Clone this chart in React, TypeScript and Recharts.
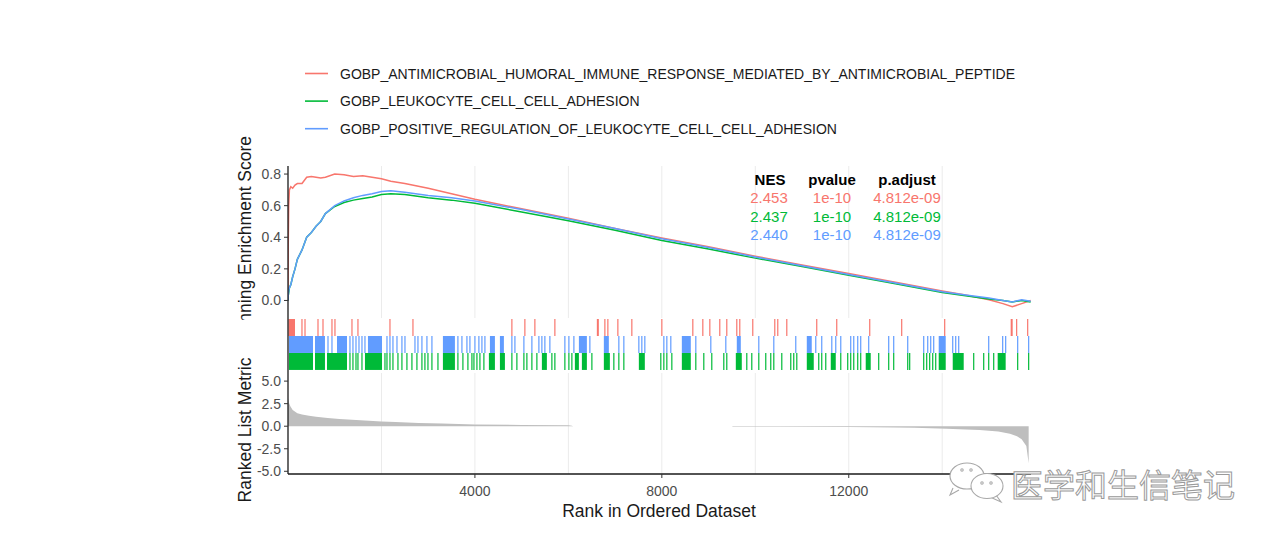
import React from 'react'
import {
  LineChart, Line, ScatterChart, Scatter, AreaChart, Area,
  XAxis, YAxis, CartesianGrid, ReferenceArea,
} from 'recharts'

const W = 1271
const H = 541
const FONT = '"Liberation Sans", Arial, Helvetica, sans-serif'

const RED = '#F8766D'
const GREEN = '#00BA38'
const BLUE = '#619CFF'

const N_GENES = 15900
const gridRanks = [2000, 4000, 6000, 8000, 10000, 12000, 14000]
const rankTicks = [4000, 8000, 12000]
const esTicks = [0, 0.2, 0.4, 0.6, 0.8]
const metricTicks = [-5, -2.5, 0, 2.5, 5]

const setNames = [
  'GOBP_ANTIMICROBIAL_HUMORAL_IMMUNE_RESPONSE_MEDIATED_BY_ANTIMICROBIAL_PEPTIDE',
  'GOBP_LEUKOCYTE_CELL_CELL_ADHESION',
  'GOBP_POSITIVE_REGULATION_OF_LEUKOCYTE_CELL_CELL_ADHESION',
]
const setColors = [RED, GREEN, BLUE]
const nes = ['2.453', '2.437', '2.440']
const pvalues = ['1e-10', '1e-10', '1e-10']
const padjust = ['4.812e-09', '4.812e-09', '4.812e-09']

// running enrichment score
const esRanks = [0, 5, 15, 30, 60, 100, 150, 200, 300, 400, 500, 600, 700, 800, 1000, 1200, 1400, 1600, 1800, 2000,
  2200, 2500, 3000, 3500, 4000, 5000, 6000, 7000, 8000, 9000, 10000, 11000, 12000, 13000, 14000, 14500, 15000, 15300, 15500, 15700, 15893]
const esAntimicrobial = [0.0, 0.35, 0.6, 0.70, 0.72, 0.71, 0.73, 0.74, 0.74, 0.78, 0.785, 0.78, 0.775, 0.78, 0.80, 0.795, 0.785, 0.79, 0.78, 0.77,
  0.755, 0.74, 0.71, 0.675, 0.64, 0.58, 0.52, 0.455, 0.395, 0.34, 0.28, 0.225, 0.17, 0.115, 0.06, 0.035, 0.005, -0.02, -0.04, -0.02, 0.0]
const esLeukocyte = [0.0, 0.03, 0.05, 0.08, 0.10, 0.15, 0.20, 0.26, 0.32, 0.40, 0.43, 0.47, 0.50, 0.55, 0.595, 0.62, 0.635, 0.645, 0.655, 0.67,
  0.675, 0.67, 0.65, 0.635, 0.615, 0.56, 0.505, 0.445, 0.38, 0.325, 0.268, 0.215, 0.16, 0.105, 0.05, 0.03, 0.01, 0.0, -0.01, 0.0, -0.01]
const esPositiveReg = [0.0, 0.03, 0.06, 0.08, 0.10, 0.15, 0.20, 0.26, 0.32, 0.40, 0.43, 0.47, 0.50, 0.55, 0.60, 0.63, 0.65, 0.665, 0.675, 0.69,
  0.695, 0.685, 0.665, 0.65, 0.63, 0.575, 0.515, 0.455, 0.39, 0.335, 0.275, 0.22, 0.165, 0.11, 0.055, 0.035, 0.015, 0.0, -0.01, 0.005, -0.005]

// ranked list metric
const metricRanks = [0, 20, 50, 100, 200, 300, 450, 600, 850, 1100, 1550, 2000, 2300, 2800, 3300, 4000, 5000, 6000, 6075, 6100,
  9500, 9520, 10500, 12000, 13000, 13400, 14100, 14500, 14800, 15200, 15450, 15600, 15700, 15800, 15850]
const metricValues = [3.1, 2.6, 2.2, 1.8, 1.45, 1.3, 1.15, 1.05, 0.9, 0.8, 0.65, 0.52, 0.47, 0.36, 0.3, 0.18, 0.14, 0.1, 0.05, 0,
  0, -0.05, -0.06, -0.1, -0.14, -0.18, -0.29, -0.36, -0.43, -0.6, -0.85, -1.1, -1.45, -2.2, -4.1]

// gene set hits: single ranks and dense runs [from, to]
const redHitRanks = [299, 364, 642, 749, 941, 1005, 1369, 1497, 2182, 2674, 4791, 5069, 5283, 5711, 6781, 6845, 7059, 7358, 8000,
  8663, 8877, 9027, 9240, 9390, 9604, 9668, 9946, 10417, 10481, 10674, 11315, 11743, 12449, 13133, 14053, 15593, 15829]
const redHitBlocks = [[10, 150], [6609, 6652], [15465, 15508]]

const blueHitRanks = [856, 941, 1326, 1390, 1455, 1519, 1583, 1647, 2118, 2182, 2246, 2332, 2438, 2503, 2717, 2781, 2866, 2973, 3080,
  3636, 3722, 3829, 3893, 4000, 4085, 4150, 4214, 4791, 4856, 5048, 5219, 5369, 5433, 5497, 5604, 5925, 6011, 6118, 6460, 7080,
  7187, 7508, 7572, 7636, 8043, 8107, 8192, 8727, 9048, 9369, 10075, 10396, 10866, 11294, 11422, 11637, 11722, 11829, 12042,
  12107, 12192, 12256, 12427, 12855, 12962, 13262, 13604, 13690, 13754, 13818, 14225, 14289, 14353, 14995, 15294, 15358, 15615, 15850]
const blueHitBlocks = [[21, 535], [578, 791], [1048, 1262], [1711, 2011], [3315, 3572], [4321, 4428], [4535, 4620], [6225, 6396],
  [6759, 6866], [8428, 8620], [9604, 9690], [11102, 11208], [13925, 14075]]

const greenHitRanks = [1326, 1390, 1455, 1497, 1583, 2075, 2118, 2182, 2246, 2353, 2438, 2545, 2652, 2759, 2866, 2930, 2995, 3080,
  3209, 3636, 3743, 3850, 3936, 3979, 4043, 4107, 4192, 4791, 4898, 5048, 5112, 5219, 5326, 5647, 5711, 5925, 6011, 6075, 6503,
  6973, 7080, 7187, 7978, 8043, 8107, 8214, 8727, 8898, 9069, 9326, 9390, 9818, 9925, 10075, 10224, 10331, 10396, 10567, 10759,
  10823, 10888, 11358, 11422, 11508, 11829, 11978, 12042, 12107, 12192, 12256, 12641, 12855, 12962, 13262, 13304, 13604, 13668,
  13732, 13797, 13861, 14674, 14888, 14995, 15102, 15615, 15850]
const greenHitBlocks = [[21, 535], [578, 791], [835, 1262], [1647, 2011], [3315, 3572], [4299, 4428], [4535, 4642], [5433, 5540],
  [6139, 6225], [6289, 6396], [6759, 6888], [7508, 7636], [8428, 8620], [9583, 9711], [11102, 11251], [11615, 11722],
  [12363, 12470], [13925, 14075], [14225, 14460], [15187, 15358]]

const esData = esRanks.map((rank, i) => ({
  rank, anti: esAntimicrobial[i], leuko: esLeukocyte[i], posreg: esPositiveReg[i],
}))
const metricData = metricRanks.map((rank, i) => ({ rank, value: metricValues[i] }))
const hitRows = [
  { key: 'red', color: RED, y: 2.5, ranks: redHitRanks, blocks: redHitBlocks },
  { key: 'blue', color: BLUE, y: 1.5, ranks: blueHitRanks, blocks: blueHitBlocks },
  { key: 'green', color: GREEN, y: 0.5, ranks: greenHitRanks, blocks: greenHitBlocks },
]

const axisLine = { stroke: '#1a1a1a', strokeWidth: 1.3 }
const tickLine = { stroke: '#333', strokeWidth: 1 }
const tickText = { fill: '#4d4d4d', fontSize: 14, fontFamily: FONT }
const MARGIN_L = 248
const MARGIN_R = 240
const abs: React.CSSProperties = { position: 'absolute', left: 0, top: 0 }

const HitTick = (props: any) => {
  const { cx, cy, fill } = props
  return <line x1={cx} x2={cx} y1={cy - 8.5} y2={cy + 8.5} stroke={fill} strokeWidth={1.2} />
}

export default function App() {
  return (
    <div style={{ ...abs, width: W, height: H, background: '#fff', fontFamily: FONT, overflow: 'hidden' }}>
      <div style={abs}>
        <LineChart width={W} height={H} data={esData} margin={{ top: 166, right: MARGIN_R, bottom: H - 318, left: MARGIN_L }}>
          <CartesianGrid horizontal={false} verticalValues={gridRanks} stroke="#ebebeb" />
          <XAxis type="number" dataKey="rank" domain={[0, N_GENES]} ticks={gridRanks} hide allowDataOverflow />
          <YAxis type="number" domain={[-0.111, 0.851]} ticks={esTicks} tickFormatter={(v: number) => v.toFixed(1)}
            width={40} axisLine={axisLine} tickLine={tickLine} tickSize={4} tickMargin={3} tick={tickText} allowDataOverflow />
          <Line type="linear" dataKey="anti" stroke={RED} strokeWidth={1.5} dot={false} isAnimationActive={false} />
          <Line type="linear" dataKey="leuko" stroke={GREEN} strokeWidth={1.5} dot={false} isAnimationActive={false} />
          <Line type="linear" dataKey="posreg" stroke={BLUE} strokeWidth={1.5} dot={false} isAnimationActive={false} />
        </LineChart>
      </div>

      <div style={abs}>
        <ScatterChart width={W} height={H} margin={{ top: 318, right: MARGIN_R, bottom: H - 373, left: MARGIN_L }}>
          <XAxis type="number" dataKey="x" domain={[0, N_GENES]} hide allowDataOverflow />
          <YAxis type="number" dataKey="y" domain={[-0.18, 3.06]} width={40} tick={false} tickLine={false} axisLine={axisLine} allowDataOverflow />
          {hitRows.map(row =>
            row.blocks.map(([from, to], i) => (
              <ReferenceArea key={row.key + i} x1={from} x2={to} y1={row.y - 0.5} y2={row.y + 0.5}
                fill={row.color} fillOpacity={1} stroke="none" ifOverflow="visible" />
            ))
          )}
          {hitRows.map(row => (
            <Scatter key={row.key} data={row.ranks.map(r => ({ x: r, y: row.y }))} fill={row.color}
              shape={HitTick} isAnimationActive={false} />
          ))}
        </ScatterChart>
      </div>

      <div style={abs}>
        <AreaChart width={W} height={H} data={metricData} margin={{ top: 373, right: MARGIN_R, bottom: 37, left: MARGIN_L }}>
          <CartesianGrid horizontal={false} verticalValues={gridRanks} stroke="#ebebeb" />
          <XAxis type="number" dataKey="rank" domain={[0, N_GENES]} ticks={rankTicks} height={30} axisLine={axisLine}
            tickLine={tickLine} tickSize={4} tickMargin={8} tick={tickText} allowDataOverflow />
          <YAxis type="number" domain={[-5.3, 5.9]} ticks={metricTicks} tickFormatter={(v: number) => v.toFixed(1)}
            width={40} axisLine={axisLine} tickLine={tickLine} tickSize={4} tickMargin={3} tick={tickText} allowDataOverflow />
          <Area type="linear" dataKey="value" baseValue={0} fill="#bebebe" fillOpacity={1} stroke="none" isAnimationActive={false} />
        </AreaChart>
      </div>

      <svg width={W} height={H} style={{ ...abs, pointerEvents: 'none' }} fontFamily={FONT}>
        <defs>
          <clipPath id="esLabelClip"><rect x={0} y={0} width={W} height={320} /></clipPath>
        </defs>
        {setNames.map((name, i) => (
          <g key={name}>
            <line x1={305} x2={328} y1={73.5 + i * 27.6} y2={73.5 + i * 27.6} stroke={setColors[i]} strokeWidth={1.6} />
            <text x={340} y={78.5 + i * 27.6} fontSize={14} fill="#1a1a1a">{name}</text>
          </g>
        ))}

        <g fontSize={15} textAnchor="middle">
          <text x={770} y={185} fontWeight="bold" fill="#000">NES</text>
          <text x={832} y={185} fontWeight="bold" fill="#000">pvalue</text>
          <text x={907} y={185} fontWeight="bold" fill="#000">p.adjust</text>
          {nes.map((v, i) => (
            <g key={i} fill={setColors[i]}>
              <text x={769} y={203.3 + i * 18.3}>{v}</text>
              <text x={832} y={203.3 + i * 18.3}>{pvalues[i]}</text>
              <text x={907} y={203.3 + i * 18.3}>{padjust[i]}</text>
            </g>
          ))}
        </g>

        <g clipPath="url(#esLabelClip)">
          <text transform="translate(251 240.5) rotate(-90)" textAnchor="middle" fontSize={17.5} fill="#1a1a1a">Running Enrichment Score</text>
        </g>
        <text transform="translate(251 430) rotate(-90)" textAnchor="middle" fontSize={17.5} fill="#1a1a1a">Ranked List Metric</text>
        <text x={659} y={517} textAnchor="middle" fontSize={17.5} fill="#1a1a1a">Rank in Ordered Dataset</text>

        <g stroke="#a8a8a8" strokeWidth={1.1} fill="#fff">
          <path d="M953 488 L950 495 L959 490" />
          <ellipse cx={967} cy={476} rx={17} ry={13} />
          <path d="M996 495 L1001 502 L990 497" />
          <ellipse cx={987} cy={486} rx={16} ry={12.5} />
          <circle cx={962} cy={470} r={1.2} />
          <circle cx={971} cy={470} r={1.2} />
          <circle cx={982} cy={483} r={1.2} />
          <circle cx={991} cy={483} r={1.2} />
        </g>
        <text x={1011} y={497} fontSize={32} fontFamily='"Noto Sans CJK SC", sans-serif' fill="#fff" stroke="#9a9a9a" strokeWidth={1}>医学和生信笔记</text>
      </svg>
    </div>
  )
}
